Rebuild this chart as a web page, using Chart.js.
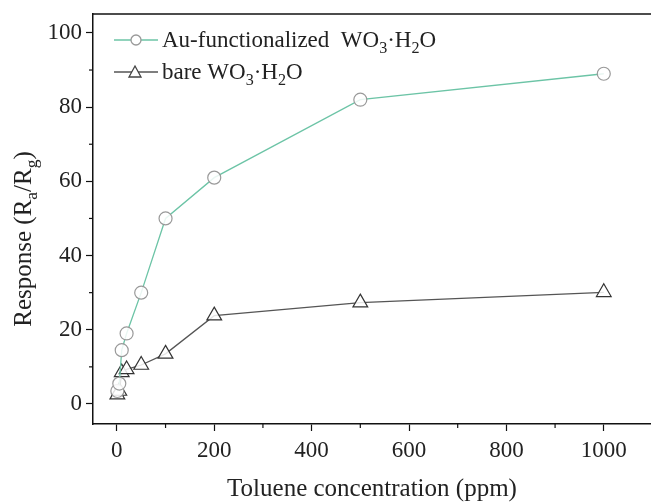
<!DOCTYPE html>
<html>
<head>
<meta charset="utf-8">
<script src="https://cdn.jsdelivr.net/npm/chart.js@4.4.1/dist/chart.umd.min.js"></script>
<style>
  html, body { margin: 0; padding: 0; background: #fff; }
  #wrap { width: 651px; height: 504px; }
</style>
</head>
<body>
<div id="wrap"><canvas id="resp-chart" width="651" height="504"></canvas></div>
<script>
// toluene concentration (ppm)
var conc = [1, 5, 10, 20, 50, 100, 200, 500, 1000];
var auResp = [3.5, 5.5, 14.5, 19, 30, 50, 61, 82, 89];
var bareResp = [2.5, 3.5, 8.5, 9.3, 10.5, 13.5, 23.8, 27.3, 30.1];
var xTicks = [0, 200, 400, 600, 800, 1000];
var yTicks = [0, 20, 40, 60, 80, 100];

var FONT = '"Liberation Serif", "Times New Roman", serif';

function pts(ys) {
  return conc.map(function (x, i) { return { x: x, y: ys[i] }; });
}

// text with subscript parts: [['WO',0],['3',1],...]
function partsWidth(ctx, parts, size) {
  var w = 0;
  parts.forEach(function (p) {
    ctx.font = (p[1] ? size * 0.7 : size) + 'px ' + FONT;
    w += ctx.measureText(p[0]).width;
  });
  return w;
}
function drawParts(ctx, parts, x, y, size) {
  parts.forEach(function (p) {
    var s = p[1] ? size * 0.7 : size;
    ctx.font = s + 'px ' + FONT;
    ctx.fillText(p[0], x, y + (p[1] ? size * 0.25 : 0));
    x += ctx.measureText(p[0]).width;
  });
  return x;
}

var extras = {
  id: 'extras',
  afterDraw: function (chart) {
    var ctx = chart.ctx, a = chart.chartArea;
    var xs = chart.scales.x, ys = chart.scales.y;
    ctx.save();
    ctx.strokeStyle = '#111';
    ctx.lineWidth = 1.5;
    // top frame line
    ctx.beginPath();
    ctx.moveTo(a.left, a.top);
    ctx.lineTo(a.right, a.top);
    ctx.stroke();
    // minor ticks
    ctx.lineWidth = 1.2;
    for (var v = 100; v <= 1000; v += 200) {
      var px = xs.getPixelForValue(v);
      ctx.beginPath(); ctx.moveTo(px, a.bottom); ctx.lineTo(px, a.bottom + 4); ctx.stroke();
    }
    for (var w = 10; w <= 90; w += 20) {
      var py = ys.getPixelForValue(w);
      ctx.beginPath(); ctx.moveTo(a.left, py); ctx.lineTo(a.left - 4, py); ctx.stroke();
    }
    ctx.fillStyle = '#222';
    ctx.textBaseline = 'alphabetic';
    // x title
    ctx.font = '25px ' + FONT;
    ctx.textAlign = 'center';
    ctx.fillText('Toluene concentration (ppm)', (a.left + a.right) / 2, 496);
    // y title
    ctx.save();
    ctx.translate(31, 239);
    ctx.rotate(-Math.PI / 2);
    ctx.textAlign = 'left';
    var yt = [['Response (R', 0], ['a', 1], ['/R', 0], ['g', 1], [')', 0]];
    drawParts(ctx, yt, -partsWidth(ctx, yt, 25) / 2, 0, 25);
    ctx.restore();
    // legend
    ctx.textAlign = 'left';
    ctx.strokeStyle = '#6cc4a6';
    ctx.lineWidth = 1.3;
    ctx.beginPath(); ctx.moveTo(114, 40); ctx.lineTo(158, 40); ctx.stroke();
    ctx.fillStyle = '#fff';
    ctx.strokeStyle = '#999';
    ctx.beginPath(); ctx.arc(136, 40, 5, 0, Math.PI * 2); ctx.fill(); ctx.stroke();
    ctx.fillStyle = '#222';
    drawParts(ctx, [['Au-functionalized  WO', 0], ['3', 1], ['\u00b7H', 0], ['2', 1], ['O', 0]], 162, 47, 23);
    ctx.strokeStyle = '#555';
    ctx.beginPath(); ctx.moveTo(114, 72); ctx.lineTo(158, 72); ctx.stroke();
    ctx.fillStyle = '#fff';
    ctx.strokeStyle = '#444';
    ctx.beginPath();
    ctx.moveTo(135, 66); ctx.lineTo(141, 77); ctx.lineTo(129, 77); ctx.closePath();
    ctx.fill(); ctx.stroke();
    ctx.fillStyle = '#222';
    drawParts(ctx, [['bare WO', 0], ['3', 1], ['\u00b7H', 0], ['2', 1], ['O', 0]], 162, 79, 23);
    ctx.restore();
  }
};

var ctx = document.getElementById('resp-chart').getContext('2d');
var chart = new Chart(ctx, {
  type: 'scatter',
  data: {
    datasets: [{
      label: 'Au-functionalized WO3·H2O',
      data: pts(auResp),
      showLine: true,
      borderColor: '#6cc4a6',
      borderWidth: 1.3,
      pointStyle: 'circle',
      pointRadius: 6.5,
      pointBackgroundColor: 'rgba(255,255,255,0.85)',
      pointBorderColor: '#999',
      pointBorderWidth: 1.2
    }, {
      label: 'bare WO3·H2O',
      data: pts(bareResp),
      showLine: true,
      borderColor: '#555',
      borderWidth: 1.3,
      pointStyle: 'triangle',
      pointRadius: 8.5,
      pointBackgroundColor: 'rgba(255,255,255,0.85)',
      pointBorderColor: '#333',
      pointBorderWidth: 1.2
    }]
  },
  options: {
    responsive: false,
    animation: false,
    layout: { autoPadding: false, padding: { left: 0, right: 0, top: 14, bottom: 0 } },
    plugins: { legend: { display: false }, tooltip: { enabled: false } },
    scales: {
      x: {
        type: 'linear',
        min: -49,
        max: 1097,
        afterBuildTicks: function (s) { s.ticks = xTicks.map(function (v) { return { value: v }; }); },
        afterFit: function (s) { s.height = 80; },
        border: { display: true, color: '#111', width: 1.5 },
        grid: { drawOnChartArea: false, tickLength: 7, tickColor: '#111', tickWidth: 1.2 },
        ticks: {
          color: '#222', padding: 6, maxRotation: 0, font: { family: FONT, size: 23 },
          callback: function (v) { return String(v); }
        }
      },
      y: {
        min: -5.4,
        max: 105.1,
        afterBuildTicks: function (s) { s.ticks = yTicks.map(function (v) { return { value: v }; }); },
        afterFit: function (s) { s.width = 93; s.paddingTop = 0; s.paddingBottom = 0; },
        border: { display: true, color: '#111', width: 1.5 },
        grid: { drawOnChartArea: false, tickLength: 7, tickColor: '#111', tickWidth: 1.2 },
        ticks: {
          color: '#222', padding: 4, font: { family: FONT, size: 23, lineHeight: 1 },
          callback: function (v) { return String(v); }
        }
      }
    }
  },
  plugins: [extras]
});
</script>
</body>
</html>
